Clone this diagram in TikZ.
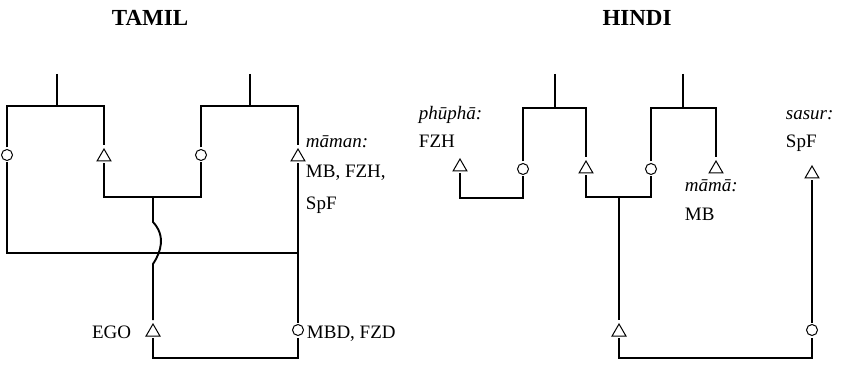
\documentclass[tikz,border=0pt]{standalone}
\usepackage{fontspec}
\setmainfont{Liberation Serif}
\usetikzlibrary{shapes.geometric}

\begin{document}
\begin{tikzpicture}[
    x=1pt, y=-1pt,
    line width=1.9pt,
    every node/.style={font=\fontsize{19}{23}\selectfont},
    female/.style={circle, draw, line width=1pt, minimum size=11pt, inner sep=0pt, outer sep=2pt},
    male/.style={regular polygon, regular polygon sides=3, draw, line width=1pt, minimum size=16pt, inner sep=0pt, outer sep=2pt},
    title/.style={font=\fontsize{23}{27}\selectfont\bfseries},
    term/.style={font=\fontsize{19}{23}\selectfont\itshape, inner sep=0pt},
    gloss/.style={inner sep=0pt}
]
\useasboundingbox (0,0) rectangle (848,366);

% titles
\node[title] (tamil) at (150,18) {TAMIL};
\node[title] (hindi) at (637,18) {HINDI};

% Tamil
\coordinate (tLtop) at (57,74);
\coordinate (tRtop) at (250,74);
\coordinate (tLbar) at (57,106);
\coordinate (tRbar) at (250,106);
\coordinate (tSib) at (153,197);
\coordinate (tAff) at (298,253);
\coordinate (tBot) at (225,358);

\node[female] (tLw) at (7,155) {};
\node[male] (tLm) at (104,157) {};
\node[female] (tRw) at (201,155) {};
\node[male] (tRm) at (298,157) {};
\node[male] (ego) at (153,332) {};
\node[female] (mbd) at (298,330) {};

\node[term, anchor=base west] (maman) at (305,148) {māman:};
\node[gloss, anchor=base west] (mbfzh) at (305,178) {MB, FZH,};
\node[gloss, anchor=base west] (tspf) at (305,209) {SpF};
\node[gloss, anchor=base east] (egol) at (132,338) {EGO};
\node[gloss, anchor=base west] (mbdl) at (306,338) {MBD, FZD};

\draw (tLtop) -- (tLbar);
\draw (tRtop) -- (tRbar);
\draw (tLw) |- (tLbar) -| (tLm);
\draw (tRw) |- (tRbar) -| (tRm);
\draw (tLm) |- (tSib) -| (tRw);
\draw (tLw) |- (tAff);
\draw (tRm) -- (mbd);
\draw (tSib) -- (153,222) .. controls (166,236) and (161,252) .. (153,264) -- (ego);
\draw (ego) |- (tBot) -| (mbd);

% Hindi
\coordinate (hLtop) at (555,74);
\coordinate (hRtop) at (683,74);
\coordinate (hLbar) at (555,108);
\coordinate (hRbar) at (683,108);
\coordinate (hFzh) at (490,198);
\coordinate (hSib) at (619,197);
\coordinate (hBot) at (715,358);

\node[male] (fzh) at (460,167) {};
\node[female] (hLw) at (523,169) {};
\node[male] (hLm) at (586,169) {};
\node[female] (hRw) at (651,169) {};
\node[male] (mama) at (716,169) {};
\node[male] (spf) at (812,174) {};
\node[male] (hego) at (619,332) {};
\node[female] (hwife) at (812,330) {};

\node[term, anchor=base west] (phupha) at (418,120) {phūphā:};
\node[gloss, anchor=base west] (fzhl) at (418,148) {FZH};
\node[term, anchor=base west] (mamal) at (684,192) {māmā:};
\node[gloss, anchor=base west] (mbl) at (684,220) {MB};
\node[term, anchor=base west] (sasur) at (785,120) {sasur:};
\node[gloss, anchor=base west] (hspf) at (785,148) {SpF};

\draw (hLtop) -- (hLbar);
\draw (hRtop) -- (hRbar);
\draw (hLw) |- (hLbar) -| (hLm);
\draw (hRw) |- (hRbar) -| (mama);
\draw (fzh) |- (hFzh) -| (hLw);
\draw (hLm) |- (hSib) -| (hRw);
\draw (hSib) -- (hego);
\draw (hego) |- (hBot) -| (hwife);
\draw (spf) -- (hwife);
\end{tikzpicture}
\end{document}
